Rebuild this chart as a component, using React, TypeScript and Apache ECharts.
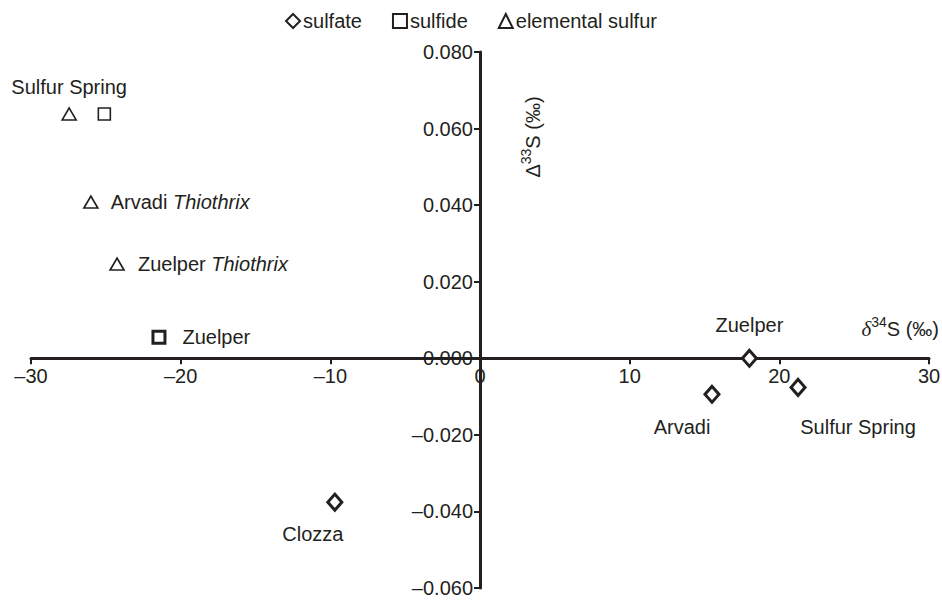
import React, { useEffect, useRef } from "react";
import * as echarts from "echarts";

const sulfateNames = ["Zuelper", "Arvadi", "Sulfur Spring", "Clozza"];
const sulfateX = [18.0, 15.5, 21.25, -9.7];
const sulfateY = [0.0, -0.0094, -0.0076, -0.0376];

const sulfideNames = ["Sulfur Spring", "Zuelper"];
const sulfideX = [-25.1, -21.45];
const sulfideY = [0.0638, 0.0055];

const sulfurNames = ["Sulfur Spring", "Arvadi Thiothrix", "Zuelper Thiothrix"];
const sulfurX = [-27.45, -26.0, -24.25];
const sulfurY = [0.0638, 0.0408, 0.0246];

const seriesNames = ["sulfate", "sulfide", "elemental sulfur"];

const INK = "#231f20";
const FONT = "Liberation Sans, Arial, sans-serif";

// label placement (style only)
const sulfateLabel = [
  { position: "top", distance: 14, offset: [0, 0] },
  { position: "bottom", distance: 13, offset: [-30, 0] },
  { position: "bottom", distance: 20, offset: [60, 0] },
  { position: "bottom", distance: 12, offset: [-22, 0] },
];
const sulfateBorder = [3, 3, 3, 3];
const sulfideLabel = [
  { show: false },
  { position: "right", distance: 16, offset: [0, 0] },
];
const sulfideBorder = [1.6, 3];
const sulfurLabel = [
  { position: "top", distance: 10, offset: [0, 0] },
  { position: "right", distance: 12, offset: [0, 0] },
  { position: "right", distance: 13, offset: [0, 0] },
];
const sulfurBorder = [1.6, 1.6, 1.6];

const fmtMinus = (s: string) => s.replace("-", "\u2013");

const labelRich = {
  n: { fontFamily: FONT, fontSize: 20, color: INK },
  i: { fontFamily: FONT, fontSize: 20, color: INK, fontStyle: "italic" },
};

const labelFormatter = (p: any) => {
  const name: string = p.name;
  if (name.includes("Thiothrix")) {
    const base = name.replace(" Thiothrix", "");
    return `{n|${base}} {i|Thiothrix}`;
  }
  return `{n|${name}}`;
};

function buildData(names: string[], xs: number[], ys: number[], labels: any[], borders: number[]) {
  return names.map((n, i) => ({
    name: n,
    value: [xs[i], ys[i]],
    label: { show: true, ...labels[i] },
    itemStyle: { borderWidth: borders[i] },
  }));
}

// grid geometry
const GL = 31, GR = 13, GT = 52, GB = 13;
const W = 942, H = 601;
const X_MIN = -30, X_MAX = 30, Y_MIN = -0.06, Y_MAX = 0.08;

export default function App() {
  const ref = useRef<HTMLDivElement>(null);
  useEffect(() => {
    if (!ref.current) return;
    const chart = echarts.init(ref.current, null, { renderer: "svg" });
    const itemStyle = { color: "#ffffff", borderColor: INK, borderWidth: 1.6, opacity: 1 };
    const commonLabel = {
      formatter: labelFormatter,
      rich: labelRich,
      color: INK,
      opacity: 1,
      fontFamily: FONT,
      fontSize: 20,
    };
    const gw = W - GL - GR;
    const gh = H - GT - GB;
    // offsets so that the axes sit at the zero of the other axis
    const yAxisOffset = -((0 - X_MIN) / (X_MAX - X_MIN)) * gw;
    const xAxisOffset = -((0 - Y_MIN) / (Y_MAX - Y_MIN)) * gh;
    chart.setOption({
      animation: false,
      backgroundColor: "#ffffff",
      grid: { left: GL, right: GR, top: GT, bottom: GB, outerBoundsMode: "none" },
      legend: {
        top: 6,
        left: "center",
        itemWidth: 14,
        itemHeight: 14,
        itemGap: 30,
        textStyle: { fontFamily: FONT, fontSize: 20, color: INK, padding: [0, 0, 0, -2] },
        data: seriesNames,
      },
      xAxis: {
        type: "value",
        min: X_MIN,
        max: X_MAX,
        interval: 10,
        position: "bottom",
        offset: xAxisOffset,
        splitLine: { show: false },
        axisLine: { onZero: false, lineStyle: { color: INK, width: 3 } },
        axisTick: { show: true, length: 6, lineStyle: { color: INK, width: 2 } },
        axisLabel: {
          color: INK,
          fontFamily: FONT,
          fontSize: 20,
          margin: 8,
          showMinLabel: true,
          showMaxLabel: true,
          formatter: (v: number) => fmtMinus(String(v)),
        },
      },
      yAxis: {
        type: "value",
        min: Y_MIN,
        max: Y_MAX,
        interval: 0.02,
        position: "left",
        offset: yAxisOffset,
        splitLine: { show: false },
        axisLine: { onZero: false, lineStyle: { color: INK, width: 3 } },
        axisTick: { show: true, length: 6, lineStyle: { color: INK, width: 2 } },
        axisLabel: {
          color: INK,
          fontFamily: FONT,
          fontSize: 20,
          margin: 7,
          showMinLabel: true,
          showMaxLabel: true,
          formatter: (v: number) => fmtMinus(v.toFixed(3)),
        },
      },
      graphic: [
        {
          type: "text",
          x: 531,
          y: 137,
          rotation: Math.PI / 2,
          style: {
            text: "{n|\u0394}{s|33}{n|S (\u2030)}",
            align: "center",
            verticalAlign: "middle",
            rich: {
              n: { fontFamily: FONT, fontSize: 20, fill: INK, lineHeight: 24, verticalAlign: "bottom" },
              s: { fontFamily: FONT, fontSize: 14, fill: INK, lineHeight: 24, verticalAlign: "top" },
            },
          },
        },
        {
          type: "text",
          x: 939,
          y: 327,
          style: {
            text: "{d|\u03b4}{s|34}{n|S (\u2030)}",
            align: "right",
            verticalAlign: "middle",
            rich: {
              d: { fontFamily: "Liberation Serif, Times New Roman, serif", fontStyle: "italic", fontSize: 21, fill: INK, lineHeight: 24, verticalAlign: "bottom" },
              n: { fontFamily: FONT, fontSize: 20, fill: INK, lineHeight: 24, verticalAlign: "bottom" },
              s: { fontFamily: FONT, fontSize: 14, fill: INK, lineHeight: 24, verticalAlign: "top" },
            },
          },
        },
      ],
      series: [
        {
          name: seriesNames[0],
          type: "scatter",
          symbol: "diamond",
          symbolSize: [14, 16],
          itemStyle,
          label: commonLabel,
          data: buildData(sulfateNames, sulfateX, sulfateY, sulfateLabel, sulfateBorder),
          z: 5,
        },
        {
          name: seriesNames[1],
          type: "scatter",
          symbol: "rect",
          symbolSize: 12,
          itemStyle,
          label: commonLabel,
          data: buildData(sulfideNames, sulfideX, sulfideY, sulfideLabel, sulfideBorder),
        },
        {
          name: seriesNames[2],
          type: "scatter",
          symbol: "triangle",
          symbolSize: [14, 12],
          itemStyle,
          label: commonLabel,
          data: buildData(sulfurNames, sulfurX, sulfurY, sulfurLabel, sulfurBorder),
        },
      ],
    });
    return () => chart.dispose();
  }, []);
  return (
    <div
      ref={ref}
      style={{ position: "fixed", left: 0, top: 0, width: W, height: H, background: "#fff" }}
    />
  );
}
